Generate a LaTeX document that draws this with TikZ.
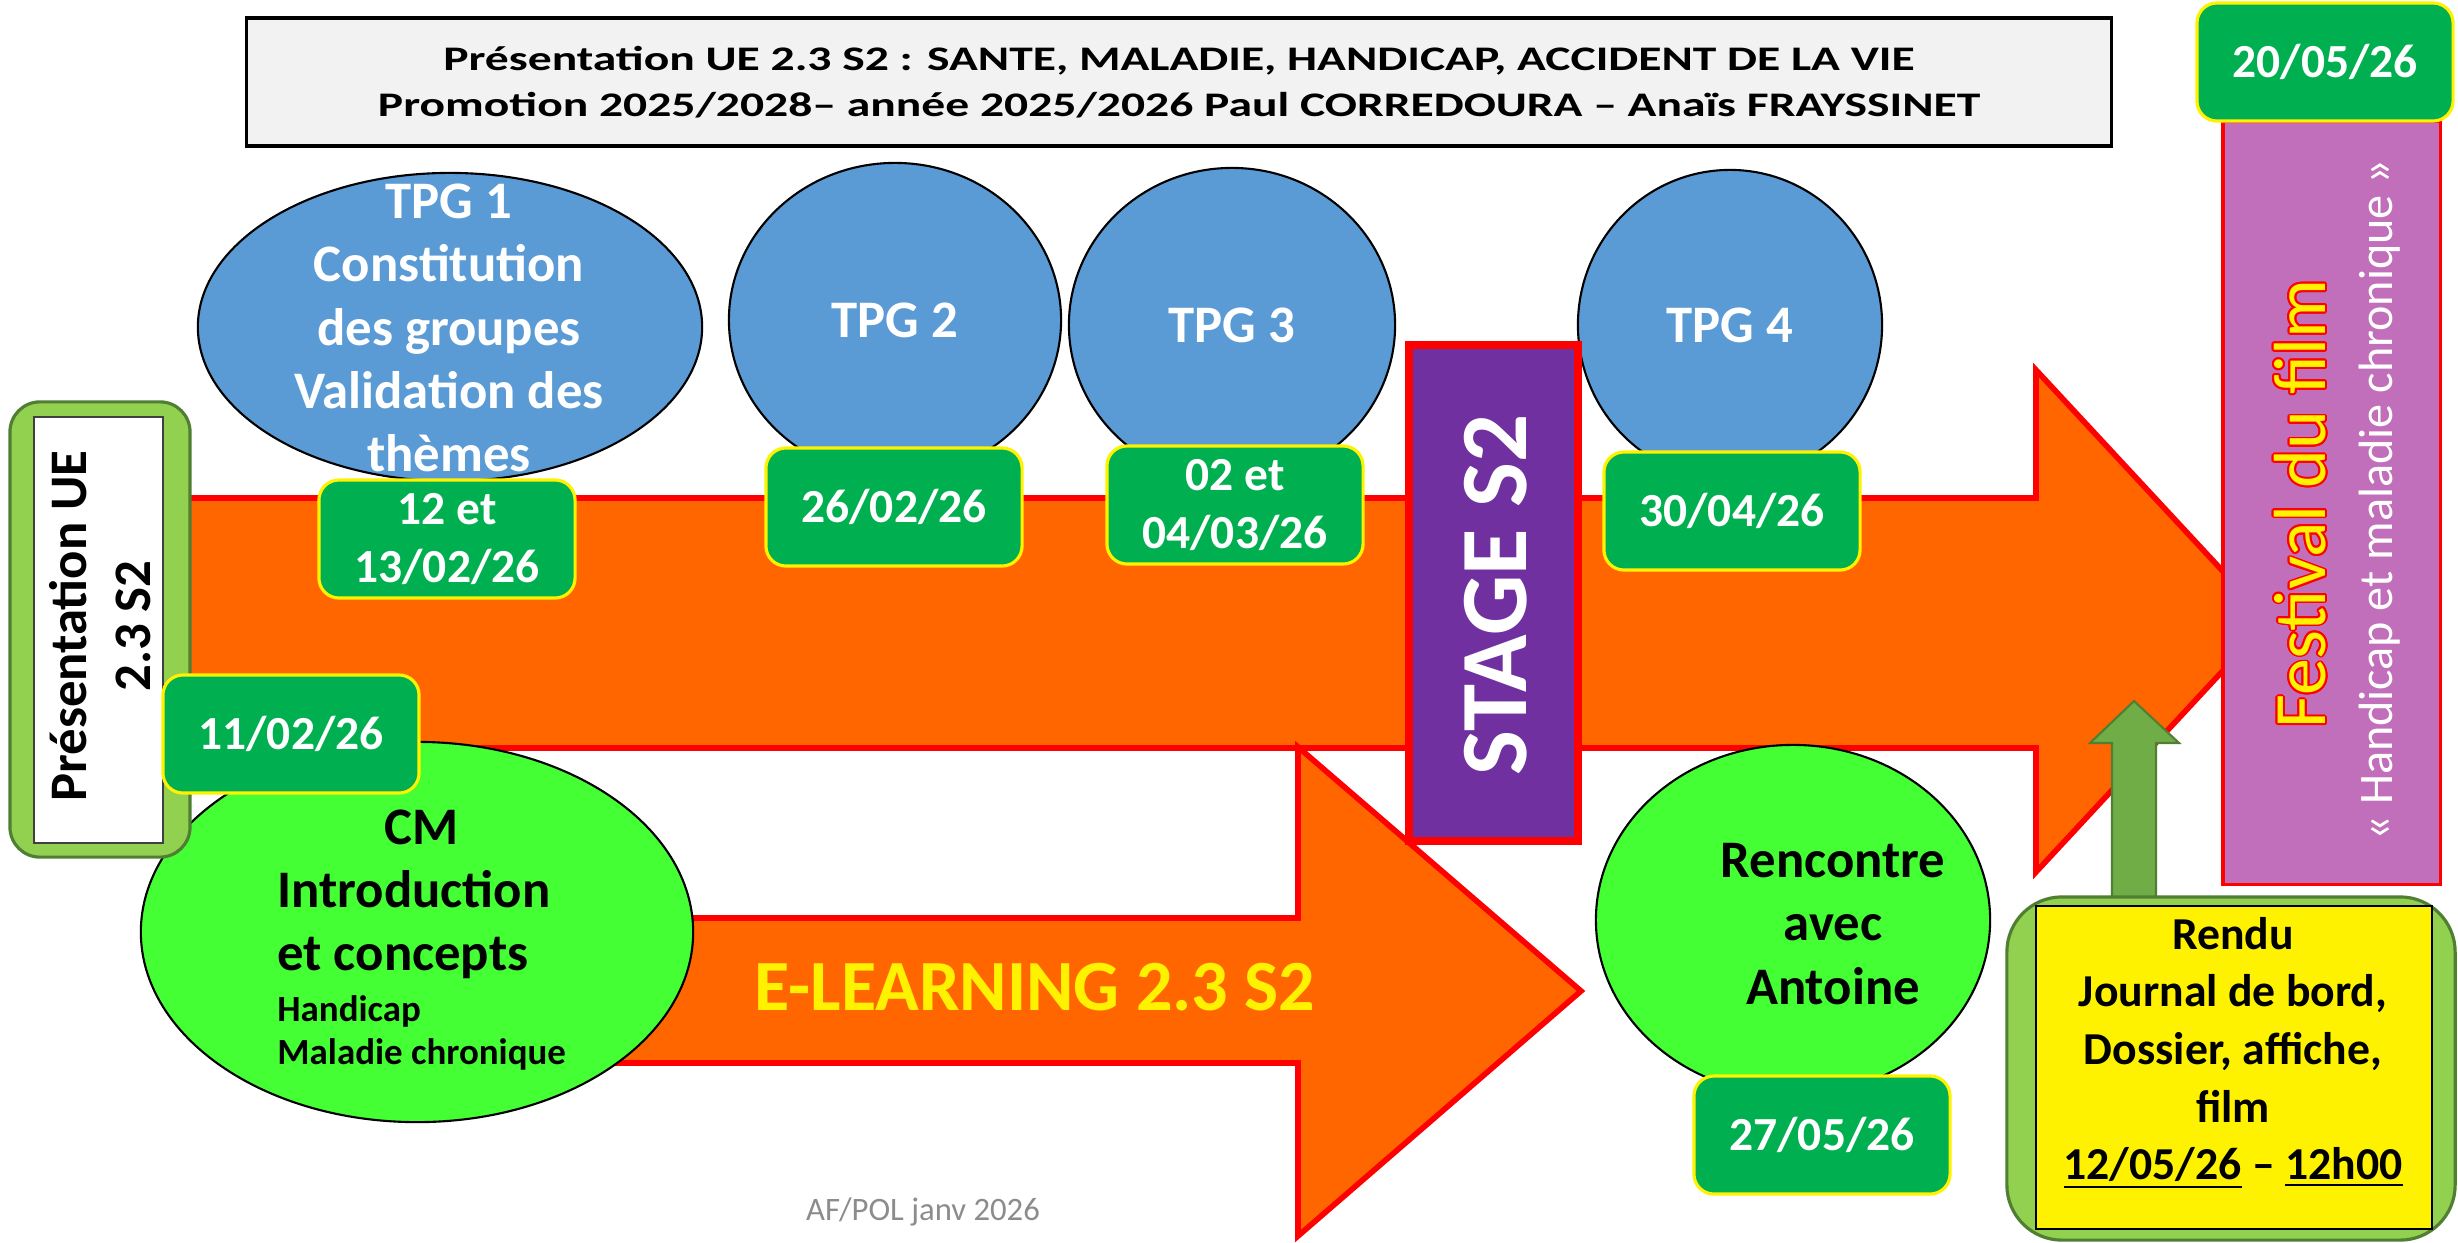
\documentclass[tikz,border=0pt]{standalone}
\usepackage{fontspec}
\setmainfont{Carlito}
\newfontfamily\titlefont{Carlito}[FakeStretch=1.38]
\usepackage[copies]{contour}
\contourlength{0.5pt}
\usetikzlibrary{shapes.geometric}

\definecolor{flecheorange}{HTML}{FF6600}
\definecolor{flecherouge}{HTML}{FF0000}
\definecolor{tpgbleu}{HTML}{5B9BD5}
\definecolor{datevert}{HTML}{00B050}
\definecolor{fluovert}{HTML}{45FF35}
\definecolor{cadrevert}{HTML}{92D050}
\definecolor{bordvert}{HTML}{507E32}
\definecolor{stageviolet}{HTML}{7030A0}
\definecolor{festivalmauve}{HTML}{C26FBB}
\definecolor{flechevert}{HTML}{70AD47}
\definecolor{titregris}{HTML}{F2F2F2}

\begin{document}
\begin{tikzpicture}[
    x=0.01cm, y=-0.01cm,
    fleche/.style={draw=flecherouge, line width=1.6pt, fill=flecheorange, line join=miter},
    tpg/.style={ellipse, draw, line width=0.6pt, fill=tpgbleu, inner sep=0pt, text=white, font=\fontsize{15}{18}\selectfont\bfseries, align=center},
    blanc/.style={text=white, font=\fontsize{15}{18}\selectfont\bfseries, align=center},
    datebox/.style={rectangle, rounded corners=0.2cm, draw=yellow, line width=0.9pt, fill=datevert, inner sep=0pt, minimum width=2.56cm, minimum height=1.18cm, text=white, font=\fontsize{13.5}{16.5}\selectfont\bfseries, align=center},
    cours/.style={ellipse, draw, line width=0.6pt, fill=fluovert, inner sep=0pt},
    noir/.style={font=\fontsize{15}{18}\selectfont\bfseries, align=center},
    cadre/.style={rectangle, rounded corners=0.3cm, draw=bordvert, line width=0.9pt, fill=cadrevert},
]
\useasboundingbox (0,0) rectangle (2458,1242);

% Titre
\node[draw, line width=0.9pt, fill=titregris, minimum width=18.64cm, minimum height=1.28cm, align=center, font=\titlefont\bfseries\fontsize{9.8}{13}\selectfont] (titre) at (1179,82) {Présentation UE 2.3 S2 : SANTE, MALADIE, HANDICAP, ACCIDENT DE LA VIE\\Promotion 2025/2028– année 2025/2026 Paul CORREDOURA – Anaïs FRAYSSINET};

% Grande flèche du semestre
\draw[fleche] (180,498) -- (2036,498) -- (2036,370) -- (2269,621)
    -- (2036,872) -- (2036,748) -- (180,748) -- cycle;

% Flèche e-learning
\draw[fleche] (560,918) -- (1298,918) -- (1298,747) -- (1581,991)
    -- (1298,1236) -- (1298,1063) -- (560,1063) -- cycle;
\node[text=yellow, font=\fontsize{20.5}{24}\selectfont\bfseries] (elearn) at (1035,987) {E-LEARNING 2.3 S2};

% CM
\node[cours, minimum width=5.52cm, minimum height=3.8cm] (cm) at (417,932) {};
\node[noir, align=left] (cmtxt) at (422,940) {\makebox[2.89cm]{CM}\\Introduction\\et concepts\\[-3.7pt]{\fontsize{10.5}{12}\selectfont Handicap}\\[-5.7pt]{\fontsize{10.5}{12}\selectfont Maladie chronique}};

% Présentation UE
\node[cadre, minimum width=1.8cm, minimum height=4.55cm] (pres) at (100,629.5) {};
\node[draw=black!75, line width=0.6pt, fill=white, minimum width=1.29cm, minimum height=4.26cm] (presin) at (98.5,630) {};
\node[noir, rotate=90] (prestxt) at (100,626) {Présentation UE\\2.3 S2};

% TPG
\node[tpg, minimum width=5.04cm, minimum height=3.08cm] (tpg1) at (450,327) {};
\node[blanc] (tpg1txt) at (449,328) {TPG 1\\Constitution\\des groupes\\Validation des\\thèmes};
\node[tpg, minimum width=3.32cm, minimum height=3.14cm] (tpg2) at (895,320) {TPG 2};
\node[tpg, minimum width=3.26cm, minimum height=3.14cm] (tpg3) at (1232,325) {TPG 3};
\node[tpg, minimum width=3.04cm, minimum height=3.10cm] (tpg4) at (1730,325) {TPG 4};

% Dates des TPG
\node[datebox] (d1213) at (447,539) {12 et\\13/02/26};
\node[datebox] (d2602) at (894,507) {26/02/26};
\node[datebox] (d0403) at (1235,505) {02 et\\04/03/26};
\node[datebox] (d3004) at (1732,511) {30/04/26};

% Stage
\node[draw=flecherouge, line width=2.3pt, fill=stageviolet, minimum width=1.69cm, minimum height=4.96cm] (stage) at (1493.5,593) {};
\node[rotate=90, text=white, font=\fontsize{27}{32}\selectfont\bfseries] (stagetxt) at (1496,595) {STAGE S2};

% Rencontre
\node[cours, minimum width=3.94cm, minimum height=3.5cm] (rencontre) at (1793,920) {};
\node[noir] (rencontretxt) at (1833,924) {Rencontre\\avec\\Antoine};
\node[datebox] (d2705) at (1822,1135) {27/05/26};

% Festival du film
\node[draw=flecherouge, line width=0.9pt, fill=festivalmauve, minimum width=2.17cm, minimum height=7.62cm] (festival) at (2331.5,503) {};
\node[rotate=90, text=yellow, font=\fontsize{21}{25}\selectfont] (festivaltxt) at (2301,504) {\contour{flecherouge}{Festival du film}};
\node[rotate=90, text=white, font=\fontsize{13.7}{16}\selectfont] (festivalsous) at (2380,500) {« Handicap et maladie chronique »};
\node[datebox] (d2005) at (2325,62) {20/05/26};

% Rendu
\draw[fill=flechevert, draw=bordvert, line width=0.6pt] (2112,900) -- (2112,743) -- (2090,743) -- (2134,701)
    -- (2179,743) -- (2156,743) -- (2156,900) -- cycle;
\node[cadre, rounded corners=0.55cm, minimum width=4.48cm, minimum height=3.43cm] (rendu) at (2231,1068.5) {};
\node[draw, line width=0.6pt, fill=yellow, minimum width=3.96cm, minimum height=3.23cm] (renduin) at (2234,1067.5) {};
\node[noir, font=\fontsize{13}{16.4}\selectfont\bfseries] (rendutxt) at (2233,1053) {Rendu\\Journal de bord,\\Dossier, affiche,\\film\\\underline{12/05/26} – \underline{12h00}};

% CM date
\node[datebox] (d1102) at (291,734) {11/02/26};

% Signature
\node[text=black!45, font=\fontsize{9.3}{11}\selectfont] (signature) at (923,1212) {AF/POL janv 2026};

\end{tikzpicture}
\end{document}
